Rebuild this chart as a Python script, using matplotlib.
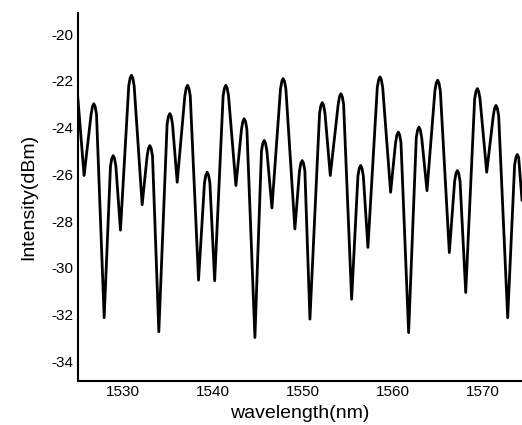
import numpy as np
import matplotlib.pyplot as plt

# Spectrum points (peaks with their rounded tops, and dips)
wavelength = [1525.0, 1525.7,
              1526.48, 1526.63, 1526.78, 1526.93, 1527.08, 1527.93,
              1528.63, 1528.78, 1528.93, 1529.08, 1529.23, 1529.74,
              1530.66, 1530.81, 1530.96, 1531.11, 1531.26, 1532.15,
              1532.7, 1532.85, 1533.0, 1533.15, 1533.3, 1534.0,
              1534.92, 1535.07, 1535.22, 1535.37, 1535.52, 1536.04,
              1536.89, 1537.04, 1537.19, 1537.34, 1537.49, 1538.41,
              1539.07, 1539.22, 1539.37, 1539.52, 1539.67, 1540.2,
              1541.14, 1541.29, 1541.44, 1541.59, 1541.74, 1542.56,
              1543.18, 1543.33, 1543.48, 1543.63, 1543.78, 1544.67,
              1545.4, 1545.55, 1545.7, 1545.85, 1546.0, 1546.56,
              1547.51, 1547.66, 1547.81, 1547.96, 1548.11, 1549.11,
              1549.62, 1549.77, 1549.92, 1550.07, 1550.22, 1550.78,
              1551.85, 1552.0, 1552.15, 1552.3, 1552.45, 1553.04,
              1553.92, 1554.07, 1554.22, 1554.37, 1554.52, 1555.41,
              1556.11, 1556.26, 1556.41, 1556.56, 1556.71, 1557.22,
              1558.26, 1558.41, 1558.56, 1558.71, 1558.86, 1559.74,
              1560.29, 1560.44, 1560.59, 1560.74, 1560.89, 1561.74,
              1562.59, 1562.74, 1562.89, 1563.04, 1563.19, 1563.78,
              1564.66, 1564.81, 1564.96, 1565.11, 1565.26, 1566.26,
              1566.85, 1567.0, 1567.15, 1567.3, 1567.45, 1568.08,
              1569.07, 1569.22, 1569.37, 1569.52, 1569.67, 1570.41,
              1571.14, 1571.29, 1571.44, 1571.59, 1571.74, 1572.74,
              1573.51, 1573.66, 1573.81, 1573.96, 1574.33]
intensity = [-22.7, -26.05,
             -23.43, -23.1, -22.98, -23.1, -23.43, -32.14,
             -25.65, -25.32, -25.2, -25.32, -25.65, -28.39,
             -22.21, -21.88, -21.76, -21.88, -22.21, -27.3,
             -25.22, -24.89, -24.77, -24.89, -25.22, -32.74,
             -23.85, -23.52, -23.4, -23.52, -23.85, -26.34,
             -22.64, -22.31, -22.19, -22.31, -22.64, -30.53,
             -26.36, -26.03, -25.91, -26.03, -26.36, -30.56,
             -22.64, -22.31, -22.19, -22.31, -22.64, -26.48,
             -24.07, -23.74, -23.62, -23.74, -24.07, -32.99,
             -25.0, -24.67, -24.55, -24.67, -25.0, -27.44,
             -22.35, -22.02, -21.9, -22.02, -22.35, -28.34,
             -25.86, -25.53, -25.41, -25.53, -25.86, -32.2,
             -23.38, -23.05, -22.93, -23.05, -23.38, -26.05,
             -23.0, -22.67, -22.55, -22.67, -23.0, -31.35,
             -26.07, -25.74, -25.62, -25.74, -26.07, -29.13,
             -22.28, -21.95, -21.83, -21.95, -22.28, -26.77,
             -24.64, -24.31, -24.19, -24.31, -24.64, -32.78,
             -24.43, -24.1, -23.98, -24.1, -24.43, -26.7,
             -22.42, -22.09, -21.97, -22.09, -22.42, -29.35,
             -26.29, -25.96, -25.84, -25.96, -26.29, -31.06,
             -22.78, -22.45, -22.33, -22.45, -22.78, -25.91,
             -23.5, -23.17, -23.05, -23.17, -23.5, -32.14,
             -25.6, -25.27, -25.15, -25.27, -27.1]

x_ticks = [1530, 1540, 1550, 1560, 1570]
y_ticks = [-34, -32, -30, -28, -26, -24, -22, -20]

plt.rcParams['font.family'] = ['Liberation Sans', 'DejaVu Sans']
plt.rcParams['axes.unicode_minus'] = False

fig = plt.figure(figsize=(5.22, 4.25), dpi=100)
ax = fig.add_axes([0.149, 0.1035, 0.851, 0.8655])

ax.plot(wavelength, intensity, color='black', lw=2.0, solid_joinstyle='round')

ax.spines['right'].set_visible(False)
ax.spines['top'].set_visible(False)
ax.spines['left'].set_linewidth(1.5)
ax.spines['bottom'].set_linewidth(1.5)
ax.set_xlim(1525, 1574.33)
ax.set_ylim(-34.85, -19.1)
ax.set_xticks(x_ticks)
ax.set_yticks(y_ticks)
ax.tick_params(length=0, pad=3, labelsize=11)
ax.set_xlabel('wavelength(nm)', fontsize=14, labelpad=4)
ax.set_ylabel('Intensity(dBm)', fontsize=14, labelpad=10)

fig.savefig('out.png', dpi=100)
